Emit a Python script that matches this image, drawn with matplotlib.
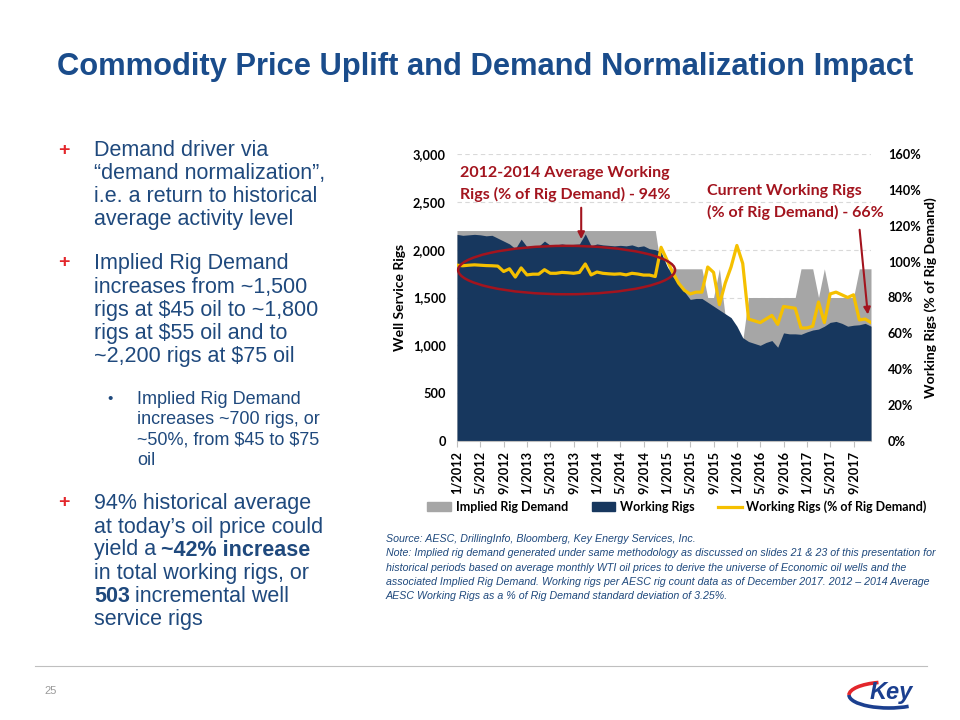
import matplotlib
matplotlib.use('Agg')
import matplotlib.pyplot as plt
from matplotlib.patches import Ellipse, Patch, Arc
from matplotlib.lines import Line2D

# monthly data, 1/2012 .. 12/2017
months = list(range(72))
working_rigs = [2160, 2150, 2155, 2160, 2155, 2145, 2150, 2120, 2090, 2060, 2010, 2110,
                2030, 2030, 2035, 2090, 2045, 2050, 2060, 2050, 2055, 2060, 2165, 2040,
                2060, 2050, 2045, 2040, 2045, 2040, 2050, 2030, 2040, 2010, 2000, 1975,
                1830, 1720, 1640, 1560, 1480, 1490, 1490, 1450, 1410, 1370, 1330, 1290,
                1200, 1080, 1040, 1020, 1000, 1030, 1050, 980, 1130, 1120, 1120, 1115,
                1140, 1160, 1170, 1200, 1240, 1250, 1230, 1200, 1210, 1215, 1230, 1200]
implied_demand = [2200, 2200, 2200, 2200, 2200, 2200, 2200, 2200, 2200, 2200, 2200, 2200,
                  2200, 2200, 2200, 2200, 2200, 2200, 2200, 2200, 2200, 2200, 2200, 2200,
                  2200, 2200, 2200, 2200, 2200, 2200, 2200, 2200, 2200, 2200, 2200, 1800,
                  1800, 1800, 1800, 1800, 1800, 1800, 1800, 1500, 1500, 1800, 1300, 1150,
                  1100, 1050, 1500, 1500, 1500, 1500, 1500, 1500, 1500, 1500, 1500, 1800,
                  1800, 1800, 1500, 1800, 1500, 1500, 1500, 1500, 1500, 1800, 1800, 1800]
pct_of_demand = [98, 97.7, 98, 98.2, 98, 97.8, 97.7, 97.5, 94.5, 96, 91.4, 96.5,
                 92.6, 93, 93, 95.5, 93.5, 93.5, 94, 93.8, 93.5, 94, 98.7, 92.6,
                 94.2, 93.5, 93.2, 93, 93.2, 92.6, 93.5, 93.1, 92.5, 92.5, 91.7, 108,
                 101, 94, 88, 84, 82, 83, 83, 97, 94, 76, 88, 97,
                 109, 99, 68, 67, 66, 68, 70, 65, 75, 74.5, 74, 63,
                 63, 64, 77.5, 66, 82, 83, 81.5, 80, 81.5, 67.5, 68, 66]
tick_labels = ['1/2012', '5/2012', '9/2012', '1/2013', '5/2013', '9/2013',
               '1/2014', '5/2014', '9/2014', '1/2015', '5/2015', '9/2015',
               '1/2016', '5/2016', '9/2016', '1/2017', '5/2017', '9/2017']

GRAY = '#A6A6A6'
NAVY = '#17375E'
GOLD = '#F5C000'
RED = '#A3141E'
BLUE = '#1F497D'
TITLE = '#1A4C8B'
CH = 'Lato'
BODY = 'Liberation Sans'

W, H = 960, 720
fig = plt.figure(figsize=(9.6, 7.2), dpi=100)
fig.patch.set_facecolor('white')
renderer = fig.canvas.get_renderer()

def P(x, y):
    return x / W, 1 - y / H

def t(x, y, s, **kw):
    fx, fy = P(x, y)
    kw.setdefault('va', 'center')
    return fig.text(fx, fy, s, **kw)

# title
t(485, 67, 'Commodity Price Uplift and Demand Normalization Impact', ha='center',
  fontsize=22.2, fontweight='bold', color=TITLE, family=BODY)

# bullets
bfs = 15.5
plus = dict(color='#E3262B', fontsize=14, fontweight='bold', family=BODY)
body = dict(color=BLUE, fontsize=bfs, family=BODY)
t(64, 150, '+', ha='center', **plus)
for i, s in enumerate(['Demand driver via', '\u201cdemand normalization\u201d,',
                       'i.e. a return to historical', 'average activity level']):
    t(94, 150 + 23.1 * i, s, **body)
t(64, 263, '+', ha='center', **plus)
for i, s in enumerate(['Implied Rig Demand', 'increases from ~1,500', r'rigs at \$45 oil to ~1,800',
                       r'rigs at \$55 oil and to', r'~2,200 rigs at \$75 oil']):
    t(94, 264 + 23.1 * i, s, **body)
t(110, 399, '\u2022', ha='center', color=BLUE, fontsize=11, family=BODY)
for i, s in enumerate(['Implied Rig Demand', 'increases ~700 rigs, or', r'~50%, from \$45 to \$75', 'oil']):
    t(137, 399 + 20.6 * i, s, color=BLUE, fontsize=13, family=BODY)
t(64, 502, '+', ha='center', **plus)
t(94, 504, '94% historical average', **body)
t(94, 527, 'at today\u2019s oil price could', **body)
a = t(94, 550, 'yield a', **body)
wa = a.get_window_extent(renderer).width
t(94 + wa + 5, 550, '~42% increase', fontweight='bold', **body)
t(94, 573, 'in total working rigs, or', **body)
b = t(94, 596, '503', fontweight='bold', **body)
wb = b.get_window_extent(renderer).width
t(94 + wb + 5, 596, 'incremental well', **body)
t(94, 619, 'service rigs', **body)

# chart
ax = fig.add_axes([457 / W, 1 - 441 / H, 414 / W, 287 / H])
ax.fill_between(months, implied_demand, color=GRAY, lw=0, zorder=1)
ax.fill_between(months, working_rigs, color=NAVY, lw=0, zorder=2)
ax.set_xlim(0, 71)
ax.set_ylim(0, 3000)
ax.set_yticks(range(0, 3001, 500))
ax.set_yticklabels(['0', '500', '1,000', '1,500', '2,000', '2,500', '3,000'])
ax.grid(axis='y', color='#D9D9D9', ls=(0, (4, 3)), lw=0.8, zorder=0)
ax.set_axisbelow(True)
ax.set_xticks(range(0, 72, 4))
ax.set_xticklabels(tick_labels, rotation=90)
for sp in ['left', 'right', 'top']:
    ax.spines[sp].set_visible(False)
ax.spines['bottom'].set_color('#BFBFBF')
ax.tick_params(axis='y', length=0, pad=8)
ax.tick_params(axis='x', length=4, color='#BFBFBF', pad=3)
for lab in ax.get_xticklabels() + ax.get_yticklabels():
    lab.set_family(CH)
    lab.set_fontweight('bold')
    lab.set_fontsize(9.2)
ax.set_ylabel('Well Service Rigs', family=CH, fontweight='bold', fontsize=10, labelpad=5)

ax2 = ax.twinx()
ax2.plot(months, pct_of_demand, color=GOLD, lw=2.3, zorder=3)
ax2.set_ylim(0, 160)
ax2.set_yticks(range(0, 161, 20))
ax2.set_yticklabels([f'{v}%' for v in range(0, 161, 20)])
for sp in ['left', 'right', 'top', 'bottom']:
    ax2.spines[sp].set_visible(False)
ax2.tick_params(axis='y', length=0, pad=12)
for lab in ax2.get_yticklabels():
    lab.set_family(CH)
    lab.set_fontweight('bold')
    lab.set_fontsize(9.2)
ax2.set_ylabel('Working Rigs (% of Rig Demand)', family=CH, fontweight='bold', fontsize=10, labelpad=3)

# annotations
ax2.add_patch(Ellipse((18.8, 95.3), 37.2, 27, fill=False, edgecolor=RED, lw=1.8,
                      clip_on=False, zorder=6))
ax2.annotate('', xy=(21.3, 111), xytext=(21.3, 131.6),
             arrowprops=dict(arrowstyle='-|>', color=RED, lw=1.5, mutation_scale=10),
             annotation_clip=False)
ax2.annotate('', xy=(70.5, 69), xytext=(69, 119.3),
             arrowprops=dict(arrowstyle='-|>', color=RED, lw=1.5, mutation_scale=10),
             annotation_clip=False)
ann = dict(color=RED, fontsize=11.5, fontweight='bold', family=CH)
t(460, 173, '2012-2014 Average Working', **ann)
t(460, 194, 'Rigs (% of Rig Demand) - 94%', **ann)
t(707, 191, 'Current Working Rigs', **ann)
t(707, 212, '(% of Rig Demand) - 66%', **ann)

handles = [Patch(color=GRAY), Patch(color=NAVY), Line2D([0], [0], color=GOLD, lw=2.3)]
fig.legend(handles, ['Implied Rig Demand', 'Working Rigs', 'Working Rigs (% of Rig Demand)'],
           loc='center', bbox_to_anchor=P(677, 507), ncol=3, frameon=False,
           prop=dict(family=CH, weight='bold', size=9), handlelength=1.9, handleheight=0.7,
           columnspacing=1.9, handletextpad=0.35)

# footnote
notes = ['Source: AESC, DrillingInfo, Bloomberg, Key Energy Services, Inc.',
         'Note: Implied rig demand generated under same methodology as discussed on slides 21 & 23 of this presentation for',
         'historical periods based on average monthly WTI oil prices to derive the universe of Economic oil wells and the',
         'associated Implied Rig Demand. Working rigs per AESC rig count data as of December 2017. 2012 \u2013 2014 Average',
         'AESC Working Rigs as a % of Rig Demand standard deviation of 3.25%.']
for i, s in enumerate(notes):
    t(386, 539 + 14.3 * i, s, color=BLUE, fontsize=7.65, style='italic', family=BODY)

# footer
fig.add_artist(Line2D([35 / W, 927 / W], [1 - 666 / H, 1 - 666 / H], color='#BFBFBF', lw=0.8))
t(44, 691, '25', color='#9A9A9A', fontsize=8, family=BODY)
lg = fig.add_axes([845 / W, 1 - 712 / H, 85 / W, 36 / H])
lg.set_xlim(0, 85)
lg.set_ylim(0, 36)
lg.axis('off')
lg.add_patch(Arc((44, 17), 80, 26, theta1=180, theta2=330, color='#1B3F8F', lw=2.6))
lg.add_patch(Arc((44, 17), 80, 26, theta1=130, theta2=180, color='#E3262B', lw=2.6))
lg.text(46, 20, 'Key', ha='center', va='center', color='#1B3F8F', fontsize=17,
        fontweight='bold', style='italic', family=BODY)

fig.savefig('out.png', dpi=100, facecolor='white')
